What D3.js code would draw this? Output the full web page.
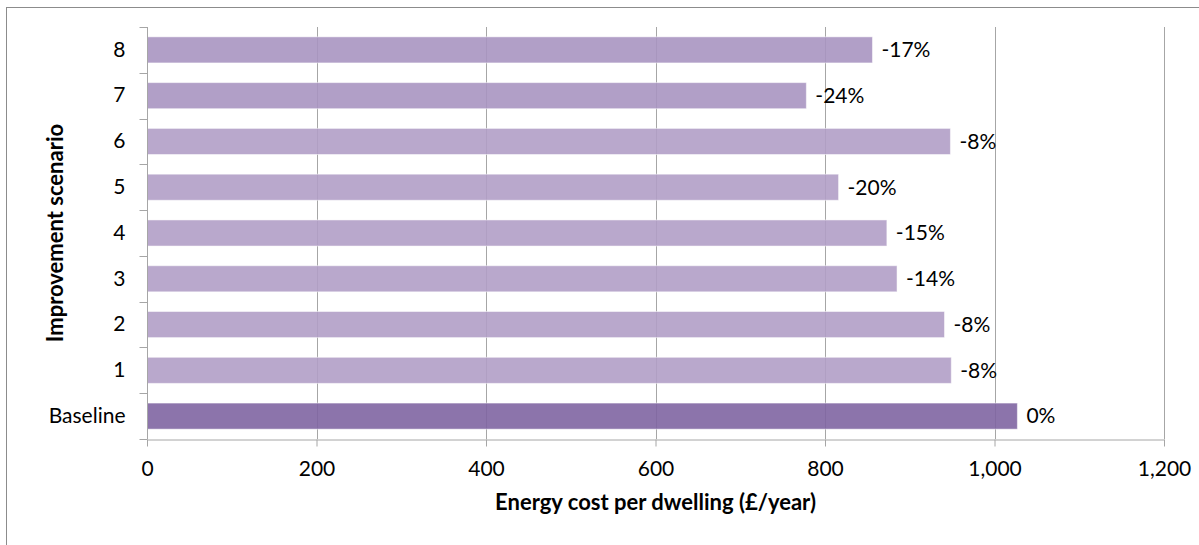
<!DOCTYPE html>
<html>
<head>
	<meta charset="UTF-8"/>
	<title>Energy cost per dwelling</title>
	<style type="text/css">
		body {
		margin: 0;
		background: #fff;
		font-family: 'Lato', 'Open Sans', sans-serif;
		}
		svg {
		display: block;
		}
		text {
		fill: #000;
		}
		.tick text {
		font-size: 21px;
		}
		.axis path, .axis line {
		stroke: #a6a6a6;
		}
		.grid line {
		stroke: #a6a6a6;
		}
		text.value {
		font-size: 21px;
		}
		text.title {
		font-size: 22px;
		font-weight: 700;
		}
	</style>
	<script src="https://d3js.org/d3.v7.min.js"></script>
</head>
<body>
	<svg width="1199" height="545"></svg>
	<script>
		// data
		const scenarios = ['Baseline', '1', '2', '3', '4', '5', '6', '7', '8'];
		const costs = [1027, 949, 941, 885, 873, 816, 948, 778, 856];
		const changes = ['0%', '-8%', '-8%', '-14%', '-15%', '-20%', '-8%', '-24%', '-17%'];
		const xTicks = [0, 200, 400, 600, 800, 1000, 1200];

		// slightly transparent bars, so these are a bit darker than the result
		const colors = ['#7f65a2', '#b19fc6', '#b19fc6', '#b19fc6', '#b19fc6', '#b19fc6', '#b19fc6', '#a895c1', '#a895c1'];

		const rows = scenarios.map((s, i) => ({name: s, cost: costs[i], label: changes[i], color: colors[i]}));

		const plotLeft = 147, plotRight = 1164, plotTop = 27, plotBottom = 439;

		const svg = d3.select('svg');

		// outer chart border
		svg.append('rect')
			.attr('x', 6.5).attr('y', 7.5)
			.attr('width', 1200).attr('height', 600)
			.attr('fill', 'none')
			.attr('stroke', '#8c8c8c');

		const x = d3.scaleLinear()
			.domain([0, 1200])
			.range([plotLeft, plotRight]);

		const y = d3.scaleBand()
			.domain(scenarios.slice().reverse())
			.range([plotTop, plotBottom])
			.paddingInner(0.43)
			.paddingOuter(0.215);

		// vertical gridlines
		svg.append('g')
			.attr('class', 'grid')
			.selectAll('line')
			.data(xTicks.slice(1))
			.join('line')
			.attr('x1', d => Math.round(x(d)) + 0.5)
			.attr('x2', d => Math.round(x(d)) + 0.5)
			.attr('y1', plotTop)
			.attr('y2', plotBottom);

		// bars
		svg.append('g')
			.selectAll('rect')
			.data(rows)
			.join('rect')
			.attr('x', x(0))
			.attr('y', d => y(d.name))
			.attr('width', d => x(d.cost) - x(0))
			.attr('height', y.bandwidth())
			.attr('fill', d => d.color)
			.attr('fill-opacity', 0.9)
			.attr('stroke', '#ffffff')
			.attr('stroke-opacity', 0.5);

		// value labels
		svg.append('g')
			.selectAll('text')
			.data(rows)
			.join('text')
			.attr('class', 'value')
			.attr('x', d => x(d.cost) + 9)
			.attr('y', d => y(d.name) + y.bandwidth() / 2)
			.attr('dy', '0.35em')
			.text(d => d.label);

		// x axis
		const xAxis = svg.append('g')
			.attr('class', 'axis')
			.attr('transform', `translate(0, ${plotBottom + 0.5})`)
			.call(d3.axisBottom(x).tickValues(xTicks).tickSize(7).tickSizeOuter(0).tickPadding(15).tickFormat(d3.format(',')));

		// y axis
		const yAxis = svg.append('g')
			.attr('class', 'axis')
			.attr('transform', `translate(${plotLeft + 0.5}, 0)`)
			.call(d3.axisLeft(y).tickSize(0).tickPadding(22));
		yAxis.select('.domain').attr('d', `M0,${plotTop}V${plotBottom}`);

		// y ticks sit between the bands
		yAxis.selectAll('line.sep')
			.data(d3.range(scenarios.length + 1))
			.join('line')
			.attr('class', 'sep')
			.attr('x1', -8).attr('x2', 0)
			.attr('y1', i => Math.round(plotTop + i * y.step()) + 0.5)
			.attr('y2', i => Math.round(plotTop + i * y.step()) + 0.5)
			.attr('stroke', '#a6a6a6');

		svg.selectAll('.tick text')
			.attr('fill', '#000')
			.style('font-family', "'Lato', 'Open Sans', sans-serif");

		// axis titles
		svg.append('text')
			.attr('class', 'title')
			.attr('x', (plotLeft + plotRight) / 2)
			.attr('y', 510)
			.attr('text-anchor', 'middle')
			.text('Energy cost per dwelling (£/year)');

		svg.append('text')
			.attr('class', 'title')
			.attr('transform', `translate(63, ${(plotTop + plotBottom) / 2}) rotate(-90)`)
			.attr('text-anchor', 'middle')
			.text('Improvement scenario');
	</script>
</body>
</html>
